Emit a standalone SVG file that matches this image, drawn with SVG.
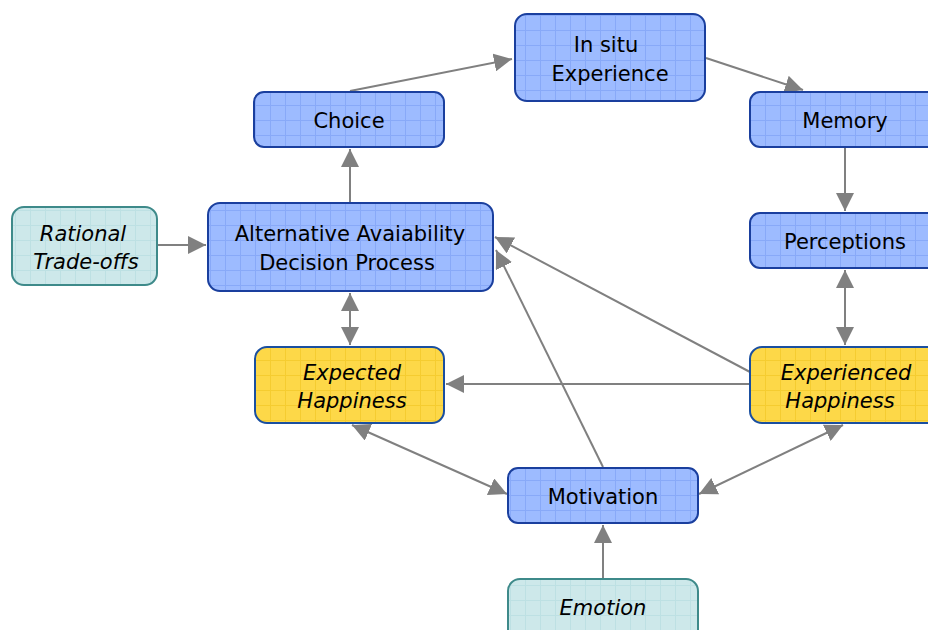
<svg xmlns="http://www.w3.org/2000/svg" width="928" height="630" viewBox="0 0 928 630">
<style>
.n{stroke-width:2}
.b{fill:url(#gb);stroke:#1a3f9e}
.y{fill:url(#gy);stroke:#1a4fa0}
.t{fill:url(#gt);stroke:#3e8a8a}
text{font-family:"DejaVu Sans","Liberation Sans",sans-serif;font-size:21px;fill:#000;text-anchor:middle}
.i{font-style:italic}
.c{stroke:#808080;stroke-width:2;fill:none}
</style>
<defs>
<pattern id="gb" patternUnits="userSpaceOnUse" width="15" height="15"><rect width="15" height="15" fill="#9dbbff"/><path d="M0 0.5H15M0.5 0V15" stroke="#88a9f8" stroke-width="1"/></pattern>
<pattern id="gy" patternUnits="userSpaceOnUse" width="15" height="15"><rect width="15" height="15" fill="#fdd848"/><path d="M0 0.5H15M0.5 0V15" stroke="#f5cc30" stroke-width="1"/></pattern>
<pattern id="gt" patternUnits="userSpaceOnUse" width="15" height="15"><rect width="15" height="15" fill="#cde8ea"/><path d="M0 0.5H15M0.5 0V15" stroke="#bde0e3" stroke-width="1"/></pattern>
<marker id="a" markerUnits="userSpaceOnUse" markerWidth="20" markerHeight="18" refX="18" refY="9" orient="auto-start-reverse" viewBox="0 0 20 18"><path d="M0 0L18 9L0 18Z" fill="#808080"/></marker>
</defs>
<g id="connectors">
<line class="c" x1="350" y1="91" x2="512" y2="59" marker-end="url(#a)"/>
<line class="c" x1="706" y1="58" x2="803" y2="90" marker-end="url(#a)"/>
<line class="c" x1="845" y1="148" x2="845" y2="211" marker-end="url(#a)"/>
<line class="c" x1="845" y1="270" x2="845" y2="345" marker-start="url(#a)" marker-end="url(#a)"/>
<line class="c" x1="350" y1="202" x2="350" y2="149" marker-end="url(#a)"/>
<line class="c" x1="157" y1="245" x2="206" y2="245" marker-end="url(#a)"/>
<line class="c" x1="350" y1="293" x2="350" y2="345" marker-start="url(#a)" marker-end="url(#a)"/>
<line class="c" x1="750" y1="384" x2="446" y2="384" marker-end="url(#a)"/>
<line class="c" x1="750" y1="372" x2="495" y2="237" marker-end="url(#a)"/>
<line class="c" x1="603" y1="467" x2="496" y2="250" marker-end="url(#a)"/>
<line class="c" x1="352" y1="425" x2="507" y2="494" marker-start="url(#a)" marker-end="url(#a)"/>
<line class="c" x1="843" y1="425" x2="699" y2="494" marker-start="url(#a)" marker-end="url(#a)"/>
<line class="c" x1="603" y1="578" x2="603" y2="525" marker-end="url(#a)"/>
</g>
<g id="insitu"><rect class="n b" x="515" y="14" width="190" height="87" rx="12"/><text x="606" y="52">In situ</text><text x="610" y="81">Experience</text></g>
<g id="choice"><rect class="n b" x="254" y="92" width="190" height="55" rx="10"/><text x="349" y="128">Choice</text></g>
<g id="memory"><rect class="n b" x="750" y="92" width="190" height="55" rx="10"/><text x="845" y="128">Memory</text></g>
<g id="alternative"><rect class="n b" x="208" y="203" width="285" height="88" rx="12"/><text x="350" y="241">Alternative Avaiability</text><text x="347" y="270">Decision Process</text></g>
<g id="rational"><rect class="n t" x="12" y="207" width="145" height="78" rx="12"/><text class="i" x="83" y="241">Rational</text><text class="i" x="86" y="269">Trade-offs</text></g>
<g id="perceptions"><rect class="n b" x="750" y="213" width="190" height="55" rx="10"/><text x="845" y="249">Perceptions</text></g>
<g id="expected"><rect class="n y" x="255" y="347" width="189" height="76" rx="12"/><text class="i" x="352" y="380">Expected</text><text class="i" x="352" y="408">Happiness</text></g>
<g id="experienced"><rect class="n y" x="750" y="347" width="190" height="76" rx="12"/><text class="i" x="846" y="380">Experienced</text><text class="i" x="840" y="408">Happiness</text></g>
<g id="motivation"><rect class="n b" x="508" y="468" width="190" height="55" rx="10"/><text x="603" y="504">Motivation</text></g>
<g id="emotion"><rect class="n t" x="508" y="579" width="190" height="62" rx="12"/><text class="i" x="603" y="615">Emotion</text></g>
</svg>
